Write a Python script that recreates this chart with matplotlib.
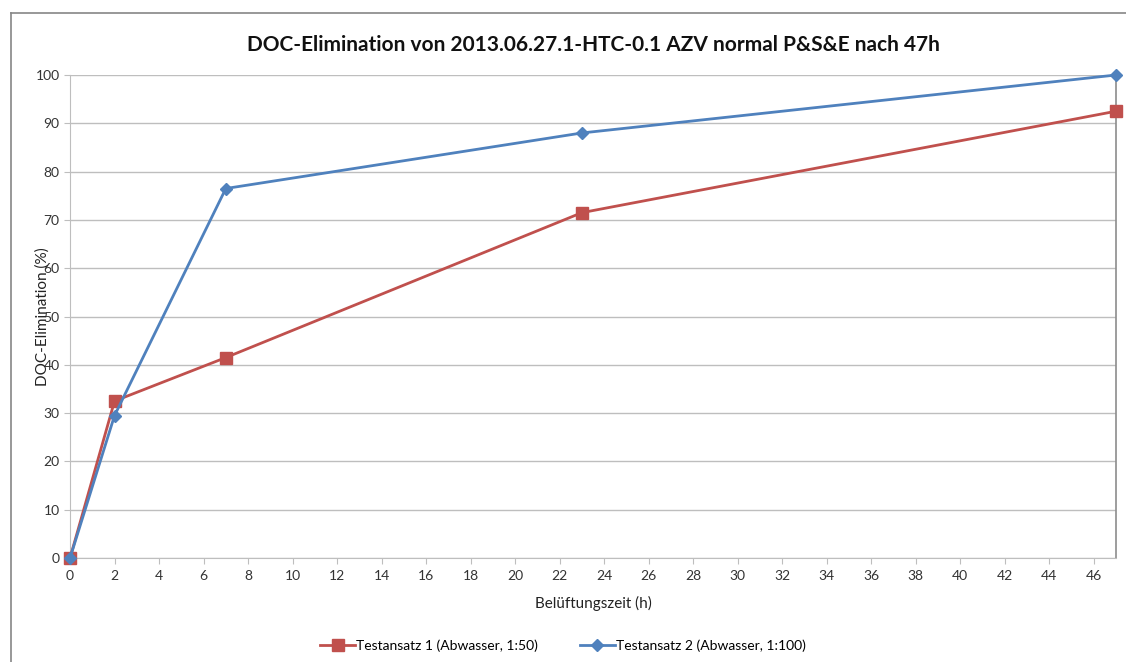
import matplotlib.pyplot as plt
from matplotlib.lines import Line2D

plt.rcParams['font.family'] = ['Lato', 'DejaVu Sans']

# Belüftungszeit (h) und DOC-Elimination (%)
zeit = [0, 2, 7, 23, 47]
testansatz1 = [0, 32.5, 41.5, 71.5, 92.5]
testansatz2 = [0, 29.5, 76.5, 88.0, 100.0]

label1 = 'Testansatz 1 (Abwasser, 1:50)'
label2 = 'Testansatz 2 (Abwasser, 1:100)'

fig = plt.figure(figsize=(11.26, 6.62), dpi=100)
ax = fig.add_axes([0.0622, 0.1571, 0.9289, 0.7296])

# outer chart frame (only left and top edges visible)
fig.add_artist(Line2D([11/1126, 11/1126], [0, 1 - 13/662], transform=fig.transFigure, color='#868686', lw=1.2))
fig.add_artist(Line2D([11/1126, 1], [1 - 13/662, 1 - 13/662], transform=fig.transFigure, color='#868686', lw=1.2))

ax.plot(zeit, testansatz1, color='#C0504D', lw=2, marker='s', markersize=8, label=label1, zorder=3, clip_on=False)
ax.plot(zeit, testansatz2, color='#4F81BD', lw=2, marker='D', markersize=6, label=label2, zorder=4, clip_on=False)

ax.set_xlim(0, 47)
ax.set_ylim(0, 100)
ax.set_xticks(range(0, 47, 2))
ax.set_yticks(range(0, 101, 10))
ax.yaxis.grid(True, color='#BEBEBE', lw=1)
ax.set_axisbelow(True)

ax.spines['top'].set_visible(False)
ax.spines['left'].set_color('#BEBEBE')
ax.spines['bottom'].set_color('#BEBEBE')
ax.spines['right'].set_color('#8C8C8C')
ax.spines['right'].set_linewidth(1.2)
ax.tick_params(axis='both', colors='#BEBEBE', labelcolor='#333333', labelsize=10, length=4)
ax.tick_params(axis='x', pad=5)

ax.set_title('DOC-Elimination von 2013.06.27.1-HTC-0.1 AZV normal P&S&E nach 47h',
             fontsize=15, fontweight='bold', pad=17, color='#111111')
ax.set_xlabel('Belüftungszeit (h)', fontsize=11, color='#222222', labelpad=10)
ax.set_ylabel('DOC-Elimination (%)', fontsize=11, color='#222222')
ax.yaxis.set_label_coords(-0.019, 0.5)

fig.legend(loc='center', bbox_to_anchor=(0.5, 1 - 646/662), ncol=2, frameon=False,
           fontsize=10, handlelength=2.5, columnspacing=3, handletextpad=0.1)

plt.savefig('out.png', dpi=100)
